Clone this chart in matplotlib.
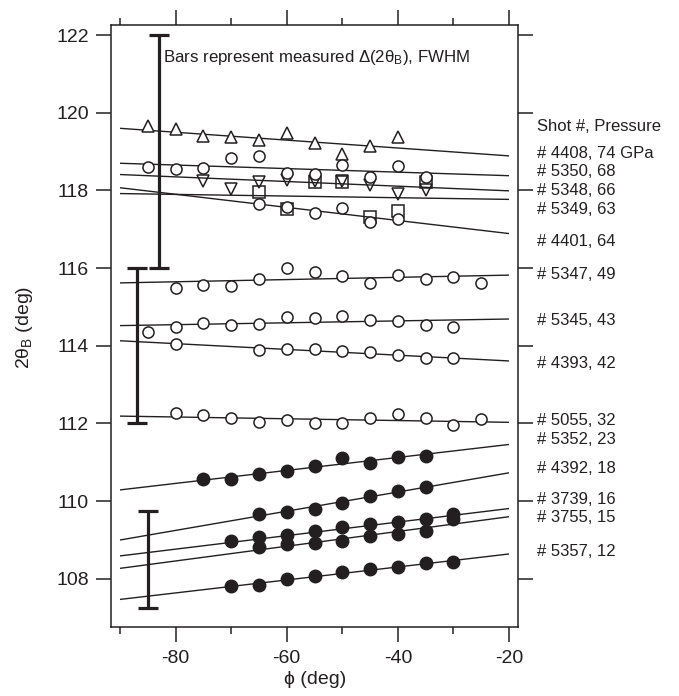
import matplotlib
matplotlib.use('Agg')
import matplotlib.pyplot as plt
from matplotlib.ticker import MultipleLocator

plt.rcParams['font.family'] = ['Liberation Sans', 'DejaVu Sans']
plt.rcParams['mathtext.fontset'] = 'custom'
plt.rcParams['mathtext.rm'] = 'Liberation Sans'
plt.rcParams['mathtext.default'] = 'regular'
plt.rcParams['axes.unicode_minus'] = False

# ---------------- data ----------------
fit_x = [-90, -20]

# open symbols (high pressure)
phi_4408 = [-85, -80, -75, -70, -65, -60, -55, -50, -45, -40]
tt_4408 = [119.66, 119.57, 119.40, 119.38, 119.30, 119.47, 119.23, 118.95, 119.14, 119.37]
fit_4408 = [119.60, 118.89]

phi_5350 = [-85, -80, -75, -70, -65, -60, -55, -50, -45, -40, -35]
tt_5350 = [118.61, 118.54, 118.58, 118.84, 118.88, 118.46, 118.43, 118.66, 118.35, 118.63, 118.35]
fit_5350 = [118.70, 118.38]

phi_5348 = [-75, -70, -65, -60, -55, -50, -45, -40, -35]
tt_5348 = [118.24, 118.05, 118.22, 118.28, 118.25, 118.25, 118.14, 117.92, 118.01]
fit_5348 = [118.41, 117.99]

phi_5349 = [-65, -60, -55, -50, -45, -40, -35]
tt_5349 = [117.97, 117.51, 118.21, 118.21, 117.32, 117.48, 118.22]
fit_5349 = [117.92, 117.77]

phi_4401 = [-65, -60, -55, -50, -45, -40]
tt_4401 = [117.65, 117.58, 117.43, 117.56, 117.20, 117.27]
fit_4401 = [118.07, 116.89]

phi_5347 = [-80, -75, -70, -65, -60, -55, -50, -45, -40, -35, -30, -25]
tt_5347 = [115.50, 115.56, 115.55, 115.73, 116.01, 115.89, 115.80, 115.61, 115.82, 115.73, 115.78, 115.63]
fit_5347 = [115.62, 115.82]

phi_5345 = [-85, -80, -75, -70, -65, -60, -55, -50, -45, -40, -35, -30]
tt_5345 = [114.36, 114.49, 114.58, 114.53, 114.56, 114.75, 114.72, 114.77, 114.66, 114.64, 114.53, 114.49]
fit_5345 = [114.52, 114.69]

phi_4393 = [-80, -65, -60, -55, -50, -45, -40, -35, -30]
tt_4393 = [114.04, 113.89, 113.93, 113.92, 113.86, 113.85, 113.76, 113.68, 113.69]
fit_4393 = [114.13, 113.61]

phi_5055 = [-80, -75, -70, -65, -60, -55, -50, -45, -40, -35, -30, -25]
tt_5055 = [112.28, 112.22, 112.15, 112.04, 112.09, 112.02, 112.00, 112.15, 112.24, 112.13, 111.96, 112.11]
fit_5055 = [112.19, 112.03]

# filled symbols (low pressure)
phi_5352 = [-75, -70, -65, -60, -55, -50, -45, -40, -35]
tt_5352 = [110.57, 110.57, 110.71, 110.77, 110.90, 111.10, 110.99, 111.14, 111.17]
fit_5352 = [110.29, 111.46]

phi_4392 = [-65, -60, -55, -50, -45, -40, -35]
tt_4392 = [109.68, 109.71, 109.80, 109.96, 110.13, 110.26, 110.37]
fit_4392 = [109.00, 110.73]

phi_3739 = [-70, -65, -60, -55, -50, -45, -40, -35, -30]
tt_3739 = [108.97, 109.07, 109.14, 109.23, 109.34, 109.41, 109.47, 109.53, 109.68]
fit_3739 = [108.59, 109.81]

phi_3755 = [-65, -60, -55, -50, -45, -40, -35, -30]
tt_3755 = [108.83, 108.89, 108.91, 108.97, 109.10, 109.15, 109.24, 109.53]
fit_3755 = [108.27, 109.60]

phi_5357 = [-70, -65, -60, -55, -50, -45, -40, -35, -30]
tt_5357 = [107.82, 107.84, 107.99, 108.08, 108.18, 108.25, 108.31, 108.40, 108.44]
fit_5357 = [107.47, 108.64]

# FWHM bars
bar_x = [-83, -87, -85]
bar_lo = [116.0, 112.0, 107.24]
bar_hi = [122.0, 116.0, 109.74]

# right-hand labels
label_text = ['Shot #, Pressure', '# 4408, 74 GPa', '# 5350, 68', '# 5348, 66', '# 5349, 63',
              '# 4401, 64', '# 5347, 49', '# 5345, 43', '# 4393, 42', '# 5055, 32',
              '# 5352, 23', '# 4392, 18', '# 3739, 16', '# 3755, 15', '# 5357, 12']
label_y = [119.64, 118.96, 118.48, 117.99, 117.52, 116.68, 115.84, 114.66, 113.55, 112.07,
           111.59, 110.84, 110.05, 109.58, 108.70]

# ---------------- plot ----------------
W, H = 679, 696
fig = plt.figure(figsize=(W / 100, H / 100), dpi=100)
ax = fig.add_axes([111 / W, 1 - 627 / H, 407 / W, 602 / H])

line_kw = dict(color='#231f20', lw=1.0, zorder=2, solid_capstyle='butt')
fits = [fit_4408, fit_5350, fit_5348, fit_5349, fit_4401, fit_5347, fit_5345, fit_4393,
        fit_5055, fit_5352, fit_4392, fit_3739, fit_3755, fit_5357]
for f in fits:
    ax.plot(fit_x, f, **line_kw)

ec = '#231f20'
open_kw = dict(ls='none', mec=ec, mew=1.1, ms=8)
ax.plot(phi_5348, tt_5348, marker='v', mfc='none', zorder=3, **open_kw)
ax.plot(phi_5349, tt_5349, marker='s', mfc='none', zorder=4, **{**open_kw, 'ms': 8.5})
ax.plot(phi_4408, tt_4408, marker='^', mfc='white', zorder=4, **open_kw)
for p, t in [(phi_5350, tt_5350), (phi_4401, tt_4401), (phi_5347, tt_5347),
             (phi_5345, tt_5345), (phi_4393, tt_4393), (phi_5055, tt_5055)]:
    ax.plot(p, t, marker='o', mfc='white', zorder=5, **open_kw)

for p, t in [(phi_5352, tt_5352), (phi_4392, tt_4392), (phi_3739, tt_3739),
             (phi_3755, tt_3755), (phi_5357, tt_5357)]:
    ax.plot(p, t, marker='o', ls='none', mfc=ec, mec=ec, ms=9, zorder=5)

for bx, lo, hi in zip(bar_x, bar_lo, bar_hi):
    mid = (lo + hi) / 2
    ax.errorbar([bx], [mid], yerr=[[mid - lo], [hi - mid]], fmt='none', ecolor=ec,
                elinewidth=2.3, capsize=7.5, capthick=2.3, zorder=6)

ax.text(-82.2, 121.43, r'Bars represent measured Δ(2θ$_{B}$), FWHM', fontsize=12.2,
        ha='left', va='center', color=ec)

ytr = ax.get_yaxis_transform()
for txt, yy in zip(label_text, label_y):
    ax.text(1.047, yy, txt, transform=ytr, fontsize=12, ha='left', va='center',
            color=ec, clip_on=False)

ax.set_xlim(-91.62, -18.38)
ax.set_ylim(106.76, 122.26)
ax.xaxis.set_major_locator(MultipleLocator(20))
ax.xaxis.set_minor_locator(MultipleLocator(10))
ax.yaxis.set_major_locator(MultipleLocator(2))

for s in ax.spines.values():
    s.set_linewidth(1.1)
    s.set_color(ec)
ax.tick_params(which='both', direction='out', top=True, right=True, width=1.1, color=ec,
               labelsize=14, labelcolor=ec)
ax.tick_params(which='major', length=10.8)
ax.tick_params(which='minor', length=5.0)
ax.tick_params(axis='x', pad=6)
ax.tick_params(axis='y', pad=5)

ax.set_xlabel('ϕ (deg)', fontsize=14, color=ec)
ax.set_ylabel(r'2θ$_{B}$ (deg)', fontsize=14, color=ec)
ax.xaxis.set_label_coords(0.501, -0.073)
ax.yaxis.set_label_coords(-0.187, 0.498)

fig.savefig('out.png', dpi=100)
